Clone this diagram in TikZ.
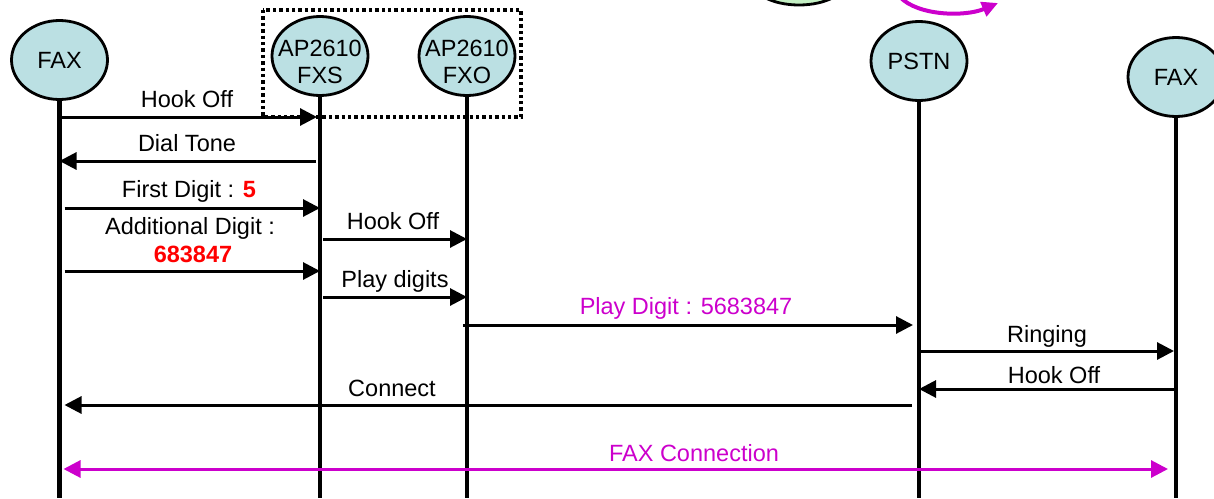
\documentclass[tikz,border=0pt]{standalone}
\usepackage{fontspec}
\setmainfont{Liberation Sans}
\usetikzlibrary{shapes.geometric,arrows.meta}

\definecolor{partyblue}{RGB}{187,224,227}
\definecolor{loopgreen}{RGB}{196,240,196}
\definecolor{sigmagenta}{RGB}{204,0,204}
\definecolor{digitred}{RGB}{255,0,0}

\tikzset{
  party/.style={ellipse, draw, fill=partyblue, line width=2.8pt,
    minimum width=96pt, minimum height=79pt,
    inner xsep=-25pt, inner ysep=-12pt, align=center},
  twoline/.style={font=\fontsize{23.5}{27}\selectfont, text height=54pt, text depth=0pt},
  lifeline/.style={line width=4.6pt},
  msg/.style={-{Triangle[length=17pt,width=17pt]}, line width=3pt},
  conn/.style={{Triangle[length=17pt,width=17pt]}-{Triangle[length=17pt,width=17pt]},
    line width=3pt, draw=sigmagenta},
  lbl/.style={anchor=base, inner sep=0pt},
}

\begin{document}
\begin{tikzpicture}[x=1pt, y=-1pt, font=\fontsize{23.5}{31}\selectfont]
      \useasboundingbox (0,0) rectangle (1214,498);

      % cut-off loop at the top
      \begin{scope}
        \clip (0,0) rectangle (1214,498);
        \draw [line width=2.8pt, fill=loopgreen] (799,-20) ellipse [x radius=48pt, y radius=25pt];
        \draw [-{Triangle[length=16pt,width=15pt]}][line width=4pt, sigmagenta]
          (900,-3) .. controls (918,16) and (965,17) .. (998,3);
      \end{scope}

      % parties
      \node [party] (fax1) at (59.5,60) {FAX};
      \node [party, twoline] (fxs) at (320,56) {AP2610\\FXS};
      \node [party, twoline] (fxo) at (467,56) {AP2610\\FXO};
      \node [party] (pstn) at (919,61) {PSTN};
      \node [party] (fax2) at (1176,77) {FAX};

      \draw [line width=3.4pt, dash pattern=on 3.4pt off 3pt] (263,10) rectangle (521,117);

      \draw [lifeline] (fax1.south) -- (fax1 |- 0,498);
      \draw [lifeline] (fxs.south) -- (fxs |- 0,498);
      \draw [lifeline] (fxo.south) -- (fxo |- 0,498);
      \draw [lifeline] (pstn.south) -- (pstn |- 0,498);
      \draw [lifeline] (fax2.south) -- (fax2 |- 0,498);

      % FAX <-> FXS
      \node [lbl] (hookoff1) at (187,107) {Hook Off};
      \draw [msg, shorten >=3pt] (fax1 |- 0,117) -- (fxs |- 0,117);
      \node [lbl] (dialtone) at (187,151) {Dial Tone};
      \draw [msg, shorten <=4pt] (fxs |- 0,161) -- (fax1 |- 0,161);
      \node [lbl] (firstdigit) at (189,197) {First Digit : \textbf{\color{digitred}5}};
      \draw [msg, shorten <=5pt] (fax1 |- 0,208) -- (fxs |- 0,208);
      \node [lbl] (adddigit) at (190,234) {Additional Digit :};
      \node [lbl] (adddigitval) at (193,262) {\textbf{\color{digitred}683847}};
      \draw [msg, shorten <=5pt] (fax1 |- 0,271) -- (fxs |- 0,271);

      % FXS -> FXO
      \node [lbl] (hookoff2) at (393,229) {Hook Off};
      \draw [msg, shorten <=3pt] (fxs |- 0,239) -- (fxo |- 0,239);
      \node [lbl] (playdigits) at (395,287) {Play digits};
      \draw [msg, shorten <=3pt] (fxs |- 0,297) -- (fxo |- 0,297);

      % FXO -> PSTN -> FAX
      \node [lbl, text=sigmagenta] (playdigit) at (686,314) {Play Digit : 5683847};
      \draw [msg, shorten <=-4pt, shorten >=6pt] (fxo |- 0,325) -- (pstn |- 0,325);
      \node [lbl] (ringing) at (1047,342) {Ringing};
      \draw [msg, shorten >=2pt] (pstn |- 0,351) -- (fax2 |- 0,351);
      \node [lbl] (hookoff3) at (1054,383) {Hook Off};
      \draw [msg] (fax2 |- 0,389) -- (pstn |- 0,389);
      \node [lbl] (connect) at (392,396) {Connect};
      \draw [msg, shorten <=7pt, shorten >=5pt] (pstn |- 0,405) -- (fax1 |- 0,405);

      \node [lbl, text=sigmagenta] (faxconn) at (694,461) {FAX Connection};
      \draw [conn, shorten <=4pt, shorten >=8pt] (fax1 |- 0,469) -- (fax2 |- 0,469);
    \end{tikzpicture}
\end{document}
